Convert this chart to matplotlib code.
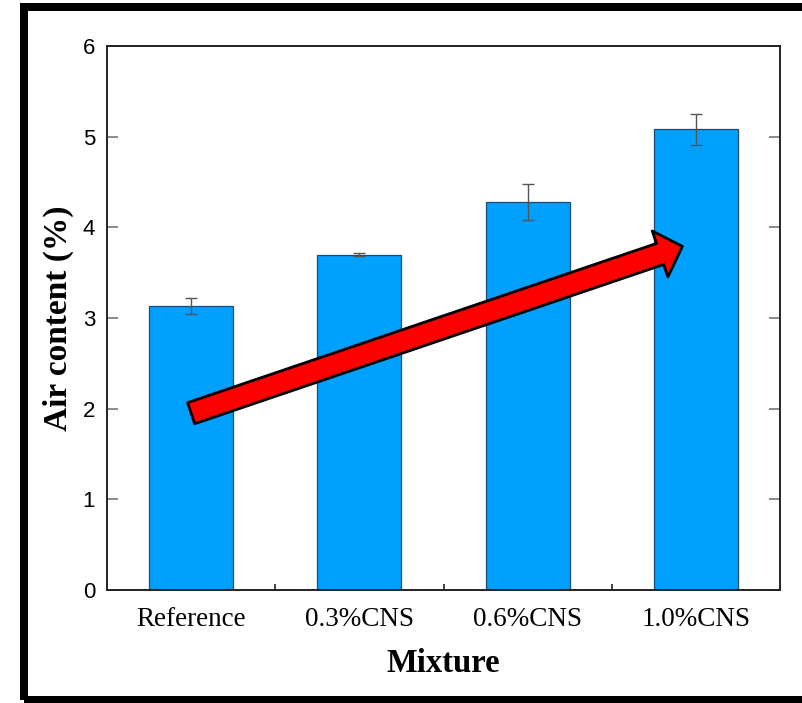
import matplotlib
matplotlib.use("Agg")
import matplotlib.pyplot as plt
from matplotlib.patches import Rectangle

# Air content of each mixture (%) with standard deviation
mixtures = ["Reference", "0.3%CNS", "0.6%CNS", "1.0%CNS"]
air_content = [3.13, 3.70, 4.28, 5.08]
air_error = [0.09, 0.02, 0.20, 0.17]
y_ticks = [0, 1, 2, 3, 4, 5, 6]

W, H, DPI = 802, 703, 100
fig = plt.figure(figsize=(W / DPI, H / DPI), dpi=DPI)
fig.patch.set_facecolor("white")

ax = fig.add_axes([107 / W, 1 - 590 / H, (780 - 107) / W, (590 - 46) / H])

x = list(range(len(mixtures)))
ax.bar(x, air_content, width=0.5, color="#00A0FF", edgecolor="#1d4a73",
       linewidth=0.9, zorder=2)
ax.errorbar(x, air_content, yerr=air_error, fmt="none", ecolor="#555555",
            elinewidth=1.0, capsize=4, capthick=1.0, zorder=3)

ax.set_xlim(-0.5, len(mixtures) - 0.5)
ax.set_ylim(0, 6)
ax.set_yticks(y_ticks)
ax.set_yticklabels([str(v) for v in y_ticks], fontsize=16,
                   family="Liberation Sans")
ax.set_xticks(x)
ax.set_xticklabels(mixtures, fontsize=19.5, family="Liberation Serif")
ax.tick_params(axis="x", which="major", length=0, pad=12)
ax.set_xticks([0.5, 1.5, 2.5], minor=True)
ax.tick_params(axis="x", which="minor", direction="in", length=4,
               width=1.2, color="#222222")
ax.tick_params(axis="y", which="major", direction="in", length=8,
               width=1.2, color="#777777", right=True, pad=8.5)

for side in ax.spines.values():
    side.set_linewidth(1.4)
    side.set_color("#222222")

ax.set_ylabel("Air content (%)", fontsize=24, fontweight="bold",
              family="Liberation Serif", labelpad=6)
ax.set_xlabel("Mixture", fontsize=23.5, fontweight="bold",
              family="Liberation Serif", labelpad=12)

# Trend arrow across the bars
ax.annotate("", xy=(2.92, 3.79), xytext=(0.0, 1.95),
            arrowprops=dict(arrowstyle="simple,head_length=0.85,head_width=1.75,tail_width=0.8",
                            mutation_scale=20, fc="#FF0000", ec="black",
                            lw=2.0, shrinkA=0, shrinkB=0),
            zorder=4)

# Thick frame around the figure
fig.patches.append(Rectangle((24 / W, 1 - 700 / H), (810 - 24) / W,
                             (700 - 7) / H, transform=fig.transFigure,
                             fill=False, ec="black", lw=8 * 0.72,
                             clip_on=False))

fig.savefig("out.png", dpi=DPI, facecolor="white")
